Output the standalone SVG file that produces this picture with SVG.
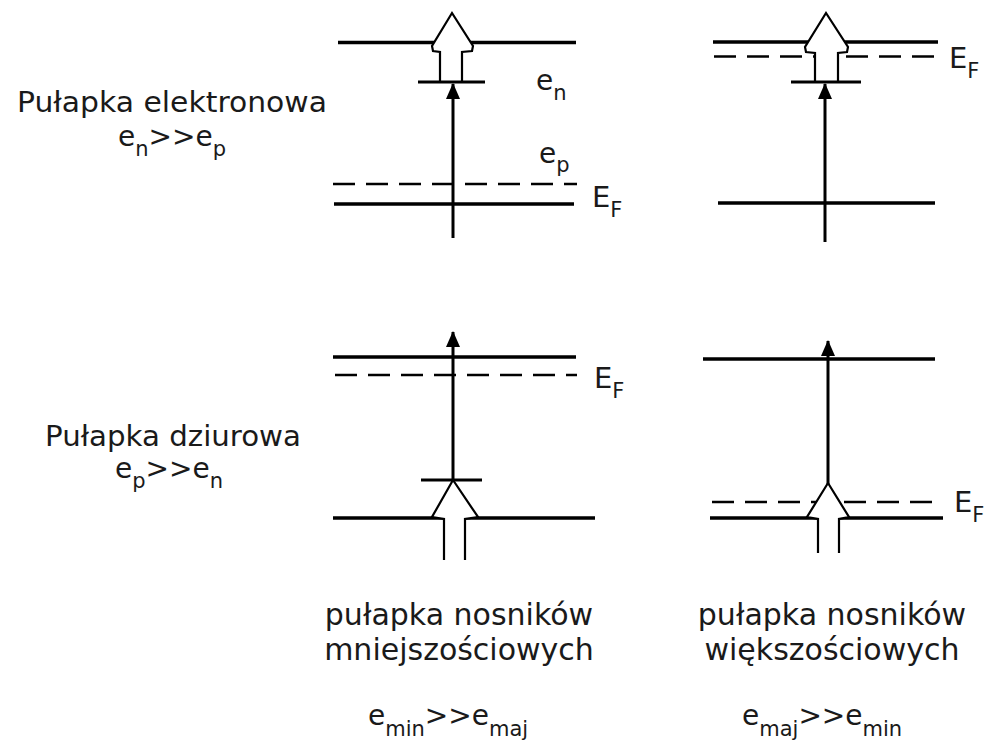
<svg xmlns="http://www.w3.org/2000/svg" width="987" height="742" viewBox="0 0 987 742">
<style>
.lvl{stroke:#000;stroke-width:3.3;fill:none}
.dash{stroke:#000;stroke-width:2.6;fill:none;stroke-dasharray:22 11}
.trap{stroke:#000;stroke-width:3;fill:none}
.vline{stroke:#000;stroke-width:3;fill:none}
.hfill{fill:#fff;stroke:none}
.hout{fill:none;stroke:#000;stroke-width:2.2;stroke-linejoin:miter}
text{font-family:"DejaVu Sans","Verdana",sans-serif;fill:#1a1a1a}
.t{font-size:28px}
.c{font-size:30px}
.s{font-size:21px}
.E{font-size:29px}
</style>
<defs>
<marker id="ah" viewBox="0 0 16 14" refX="15" refY="7" markerWidth="16" markerHeight="14" markerUnits="userSpaceOnUse" orient="auto">
<path d="M0,0 L16,7 L0,14 Z" fill="#000"/>
</marker>
</defs>
<rect width="987" height="742" fill="#fff"/>

<g id="label-elektronowa">
<text class="t" x="172" y="112" text-anchor="middle" textLength="310" lengthAdjust="spacingAndGlyphs">Pułapka elektronowa</text>
<text class="t" x="118" y="146">e<tspan class="s" dy="10">n</tspan><tspan dy="-10">&gt;&gt;e</tspan><tspan class="s" dy="10">p</tspan></text>
</g>
<g id="label-dziurowa">
<text class="t" x="173" y="446" text-anchor="middle" textLength="256" lengthAdjust="spacingAndGlyphs">Pułapka dziurowa</text>
<text class="t" x="115" y="478">e<tspan class="s" dy="10">p</tspan><tspan dy="-10">&gt;&gt;e</tspan><tspan class="s" dy="10">n</tspan></text>
</g>

<g id="panel-top-left">
<line class="lvl" x1="338" y1="42.5" x2="576" y2="42.5"/>
<line class="dash" x1="333" y1="184" x2="577" y2="184"/>
<line class="lvl" x1="334" y1="204" x2="574" y2="204"/>
<text class="t" x="536" y="90">e<tspan class="s" dy="10">n</tspan></text>
<text class="t" x="539" y="163">e<tspan class="s" dy="9">p</tspan></text>
<text class="E" x="592" y="207">E<tspan class="s" dy="10">F</tspan></text>
</g>

<g id="panel-top-right">
<line class="lvl" x1="713" y1="42" x2="938" y2="42"/>
<line class="dash" x1="714" y1="56.5" x2="938" y2="56.5"/>
<line class="lvl" x1="718" y1="203" x2="935" y2="203"/>
<text class="E" x="949" y="68">E<tspan class="s" dy="10">F</tspan></text>
</g>

<g id="panel-bottom-left">
<line class="lvl" x1="333" y1="357" x2="576" y2="357"/>
<line class="dash" x1="335" y1="375" x2="577" y2="375"/>
<line class="lvl" x1="333" y1="518" x2="595" y2="518"/>
<text class="E" x="594" y="388">E<tspan class="s" dy="10">F</tspan></text>
</g>

<g id="panel-bottom-right">
<line class="lvl" x1="703" y1="359" x2="935" y2="359"/>
<line class="dash" x1="712" y1="502" x2="943" y2="502"/>
<line class="lvl" x1="710" y1="518" x2="943" y2="518"/>
<text class="E" x="954" y="512">E<tspan class="s" dy="10">F</tspan></text>
</g>

<g id="connectors">
<path class="hfill" d="M452,13 L432,46 L433,51 L440,52 L440,82 L462,82 L462,52 L472,51 L473,46 Z"/>
<path class="hout" d="M440,82 L440,52 L433,51 L432,46 L452,13 L473,46 L472,51 L462,52 L462,82"/>
<line class="trap" x1="418" y1="82" x2="485" y2="82"/>
<line class="vline" x1="453" y1="238" x2="453" y2="84" marker-end="url(#ah)"/>
<path class="hfill" d="M826,13 L805,47 L806,52 L815,53 L815,82 L838,82 L838,53 L847,52 L848,47 Z"/>
<path class="hout" d="M815,82 L815,53 L806,52 L805,47 L826,13 L848,47 L847,52 L838,53 L838,82"/>
<line class="trap" x1="791" y1="82" x2="861" y2="82"/>
<line class="vline" x1="825" y1="242" x2="825" y2="84" marker-end="url(#ah)"/>
<path class="hfill" d="M453,480 L432,517 L444,519 L444,560 L465,560 L465,519 L478,517 Z"/>
<path class="hout" d="M444,560 L444,519 L432,517 L453,480 L478,517 L465,519 L465,560"/>
<line class="trap" x1="421" y1="480" x2="482" y2="480"/>
<line class="vline" x1="453" y1="480" x2="453" y2="332" marker-end="url(#ah)"/>
<path class="hfill" d="M828,483 L807,517 L818,519 L818,553 L839,553 L839,519 L849,517 Z"/>
<path class="hout" d="M818,553 L818,519 L807,517 L828,483 L849,517 L839,519 L839,553"/>
<line class="vline" x1="828" y1="484" x2="828" y2="341" marker-end="url(#ah)"/>
</g>

<g id="caption-min">
<text class="c" x="459" y="625" text-anchor="middle">pułapka nosników</text>
<text class="c" x="459" y="660" text-anchor="middle">mniejszościowych</text>
<text class="t" x="368" y="725">e<tspan class="s" dy="11">min</tspan><tspan dy="-11">&gt;&gt;e</tspan><tspan class="s" dy="11">maj</tspan></text>
</g>
<g id="caption-maj">
<text class="c" x="832" y="625" text-anchor="middle">pułapka nosników</text>
<text class="c" x="832" y="660" text-anchor="middle">większościowych</text>
<text class="t" x="742" y="725">e<tspan class="s" dy="11">maj</tspan><tspan dy="-11">&gt;&gt;e</tspan><tspan class="s" dy="11">min</tspan></text>
</g>
</svg>
